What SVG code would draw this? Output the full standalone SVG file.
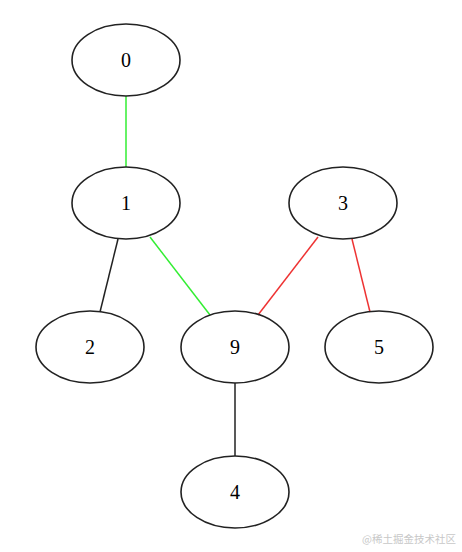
<svg xmlns="http://www.w3.org/2000/svg" width="462" height="552" viewBox="0 0 462 552">
<style>
.n ellipse{fill:none;stroke:#222;stroke-width:1.6}
.n text{font-family:"Liberation Serif","Times New Roman",serif;font-size:20px;text-anchor:middle;fill:#000}
.e line{stroke-width:1.5}
.k{stroke:#222}.g{stroke:#33ee33}.r{stroke:#ee3333}
.wm{font-family:"Noto Sans CJK SC",sans-serif;font-size:10.5px;fill:#c8c8c8;text-anchor:end}
</style>
<rect width="462" height="552" fill="#fff"/>
<g id="edges" class="e">
<line class="g" x1="126" y1="96" x2="126" y2="167"/>
<line class="k" x1="118" y1="239" x2="100" y2="312"/>
<line class="g" x1="150" y1="237" x2="210" y2="315"/>
<line class="r" x1="318" y1="237" x2="258" y2="315"/>
<line class="r" x1="352" y1="239" x2="370" y2="312"/>
<line class="k" x1="235" y1="383" x2="235" y2="456"/>
</g>
<g id="n0" class="n"><ellipse cx="126" cy="60" rx="54" ry="36"/><text x="126" y="67">0</text></g>
<g id="n1" class="n"><ellipse cx="126" cy="203" rx="54" ry="36"/><text x="126" y="210">1</text></g>
<g id="n3" class="n"><ellipse cx="343" cy="203" rx="54" ry="36"/><text x="343" y="210">3</text></g>
<g id="n2" class="n"><ellipse cx="90" cy="347" rx="54" ry="36"/><text x="90" y="354">2</text></g>
<g id="n9" class="n"><ellipse cx="235" cy="347" rx="54" ry="36"/><text x="235" y="354">9</text></g>
<g id="n5" class="n"><ellipse cx="379" cy="347" rx="54" ry="36"/><text x="379" y="354">5</text></g>
<g id="n4" class="n"><ellipse cx="235" cy="492" rx="54" ry="36"/><text x="235" y="499">4</text></g>
<text class="wm" x="456" y="543">@稀土掘金技术社区</text>
</svg>
